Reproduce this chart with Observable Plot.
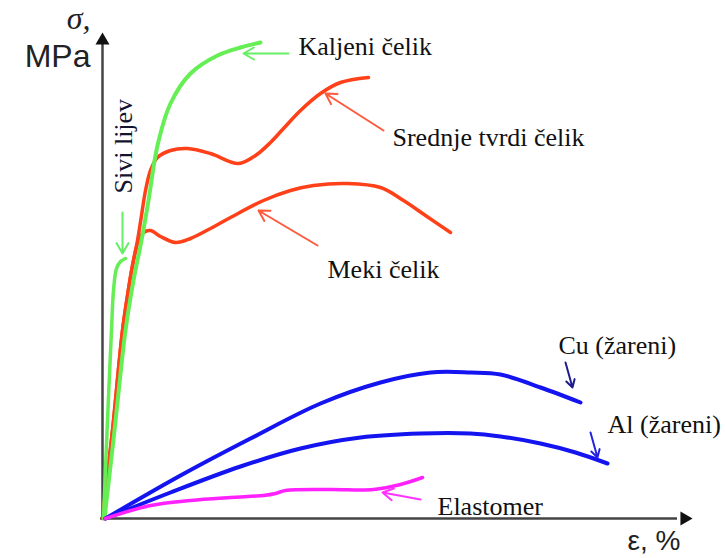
<!DOCTYPE html>
<html><head><meta charset="utf-8">
<script src="https://cdn.jsdelivr.net/npm/d3@7"></script>
<script src="https://cdn.jsdelivr.net/npm/@observablehq/plot@0.6"></script>
<style>html,body{margin:0;padding:0;background:#fff}svg{display:block}</style>
</head><body><div id="chart"></div>
<script>
// strain ε (%) , stress σ (MPa, relative scale)
const kaljeni = [[0.2,0],[1.2,176],[2.3,376],[3.1,476],[3.9,556],[4.6,636],[5.5,746],[6.8,830],[8.8,890],[11.5,926],[13.8,942],[15.8,952]];
const srednje = [[0,0],[1.0,176],[2.0,376],[2.5,446],[3.0,506],[3.5,556],[3.9,606],[4.3,656],[4.8,696],[5.5,722],[6.8,736],[8.5,740],[10.8,730],[13.6,710],[15.3,726],[16.8,752],[18.1,780],[19.8,816],[21.8,850],[23.8,872],[26.6,882]];
const meki = [[0,0],[1.0,176],[2.0,376],[2.5,446],[3.0,506],[3.6,556],[4.1,572],[4.8,576],[5.8,564],[7.3,552],[8.8,560],[10.8,580],[12.8,602],[16.1,636],[18.8,656],[21.1,666],[24.5,670],[27.8,662],[30.1,636],[32.3,606],[34.8,572]];
const sivi = [[0.1,0],[0.5,196],[0.9,376],[1.1,456],[1.4,500],[1.8,514],[2.3,520]];
const cu = [[0.3,0],[7.8,86],[14.8,160],[21.8,230],[27.8,272],[32.8,292],[36.8,292],[39.8,288],[43.8,262],[47.8,232]];
const al = [[0.3,0],[6.8,52],[13.8,104],[19.8,140],[25.8,162],[31.8,170],[36.8,170],[39.8,164],[43.8,150],[47.3,132],[50.5,110]];
const elastomer = [[0.3,0],[4.8,26],[8.8,36],[12.8,42],[16.1,46],[17.3,50],[18.3,56],[22.8,58],[27.1,58],[29.8,68],[32.0,82]];

const labelTexts = ["Kaljeni čelik","Srednje tvrdi čelik","Meki čelik","Cu (žareni)","Al (žareni)","Elastomer"];
const labelX = [19.6, 29.0, 22.5, 45.6, 50.5, 33.5];
const labelY = [928, 746, 482, 330, 172, 8];

const arrowFromX = [18.6, 28.1, 21.5, 2.0, 46.3, 48.8, 31.8];
const arrowFromY = [930, 776, 546, 612, 312, 172, 38];
const arrowToX = [14.1, 22.3, 15.6, 2.0, 47.0, 49.5, 28.0];
const arrowToY = [930, 850, 616, 530, 262, 122, 52];
const arrowColors = ["#66ee66","#ff5a3c","#ff5a3c","#66ee66","#1c1c8c","#2222dd","#ff33ff"];

const GREEN = "#66ee55", RED = "#ff4018", BLUE = "#1414f0", MAGENTA = "#ff22ff";
const SERIF = "Liberation Serif, Times New Roman, serif";
const SANS = "Liberation Sans, Arial, sans-serif";

const labels = labelTexts.map((t,i) => ({t, x: labelX[i], y: labelY[i]}));
const arrows = arrowFromX.map((x1,i) => ({x1, y1: arrowFromY[i], x2: arrowToX[i], y2: arrowToY[i], c: arrowColors[i]}));
const heads = [{x: 0, y: 956, rot: 0}, {x: 58.2, y: 0, rot: 90}];

const chart = Plot.plot({
  width: 725, height: 558,
  marginLeft: 102, marginRight: 33, marginTop: 32, marginBottom: 40,
  x: {domain: [0, 59], axis: null},
  y: {domain: [0, 972], axis: null},
  style: {background: "#fff", overflow: "visible"},
  marks: [
    Plot.ruleX([0], {y1: 0, y2: 950, stroke: "#444", strokeWidth: 2.5}),
    Plot.ruleY([0], {x1: -0.2, x2: 57.5, stroke: "#444", strokeWidth: 2.5}),
    Plot.dot(heads, {x: "x", y: "y", symbol: "triangle", r: 5.2, fill: "#111", stroke: null, rotate: "rot"}),
    Plot.line(meki, {stroke: RED, strokeWidth: 3.5, curve: "catmull-rom"}),
    Plot.line(srednje, {stroke: RED, strokeWidth: 3.5, curve: "catmull-rom"}),
    Plot.line(kaljeni, {stroke: GREEN, strokeWidth: 4, curve: "catmull-rom"}),
    Plot.line(sivi, {stroke: GREEN, strokeWidth: 3.5, curve: "catmull-rom"}),
    Plot.line(cu, {stroke: BLUE, strokeWidth: 4, curve: "catmull-rom"}),
    Plot.line(al, {stroke: BLUE, strokeWidth: 4, curve: "catmull-rom"}),
    Plot.line(elastomer, {stroke: MAGENTA, strokeWidth: 3.5, curve: "catmull-rom"}),
    Plot.arrow(arrows, {x1: "x1", y1: "y1", x2: "x2", y2: "y2", stroke: "c", strokeWidth: 2, headLength: 9}),
    Plot.text(labels, {x: "x", y: "y", text: "t", textAnchor: "start", lineAnchor: "bottom", fontFamily: SERIF, fontSize: 26, fill: "#111"}),
    Plot.text(["Sivi lijev"], {x: 2.9, y: 650, text: d => d, rotate: -90, textAnchor: "start", lineAnchor: "bottom", fontFamily: SERIF, fontSize: 26, fill: "#141430"}),
    Plot.text(["σ,"], {x: -1.2, y: 980, text: d => d, textAnchor: "end", lineAnchor: "bottom", fontFamily: SERIF, fontStyle: "italic", fontSize: 32, fill: "#222"}),
    Plot.text(["MPa"], {x: -1.2, y: 904, text: d => d, textAnchor: "end", lineAnchor: "bottom", fontFamily: SANS, fontSize: 32, fill: "#222"}),
    Plot.text(["ε, %"], {x: 57.8, y: -62, text: d => d, textAnchor: "end", lineAnchor: "bottom", fontFamily: SANS, fontSize: 28, fill: "#222"})
  ]
});
document.getElementById("chart").appendChild(chart);
</script>
</body></html>
